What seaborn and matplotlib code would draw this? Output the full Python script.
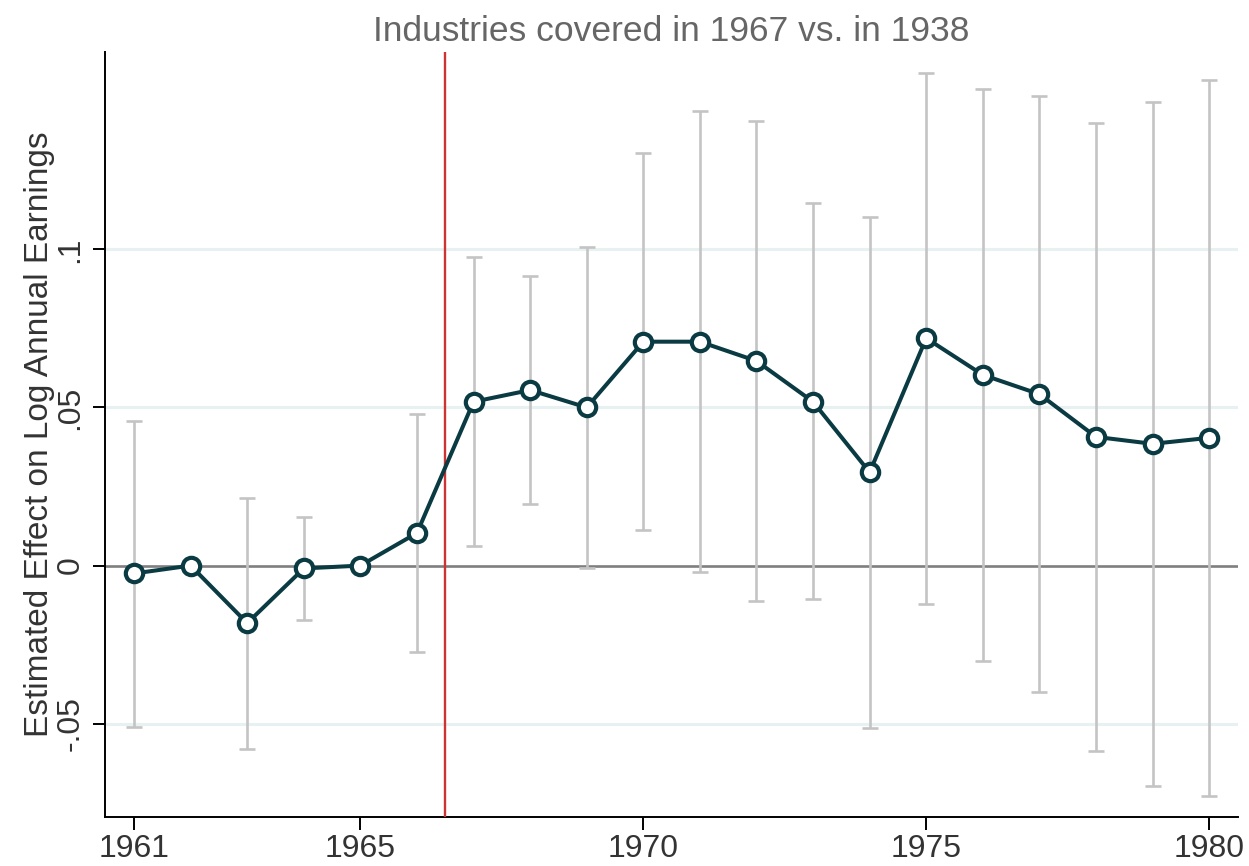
import numpy as np
import pandas as pd
import matplotlib
matplotlib.use("Agg")
import matplotlib.pyplot as plt
import seaborn as sns

years = [1961, 1962, 1963, 1964, 1965, 1966, 1967, 1968, 1969, 1970,
         1971, 1972, 1973, 1974, 1975, 1976, 1977, 1978, 1979, 1980]
estimate = [-0.0025, 0.0, -0.0182, -0.0009, 0.0, 0.0103, 0.0518, 0.0555, 0.0500, 0.0708,
            0.0708, 0.0647, 0.0518, 0.0295, 0.0719, 0.0603, 0.0542, 0.0407, 0.0385, 0.0404]
ci_upper = [0.0457, np.nan, 0.0215, 0.0153, np.nan, 0.0480, 0.0975, 0.0915, 0.1006, 0.1305,
            0.1436, 0.1405, 0.1147, 0.1101, 0.1558, 0.1507, 0.1484, 0.1398, 0.1466, 0.1535]
ci_lower = [-0.0511, np.nan, -0.0580, -0.0171, np.nan, -0.0274, 0.0063, 0.0195, -0.0007, 0.0111,
            -0.0019, -0.0111, -0.0106, -0.0512, -0.0122, -0.0301, -0.0401, -0.0587, -0.0697, -0.0730]
xtick_vals = [1961, 1965, 1970, 1975, 1980]
ytick_vals = [-0.05, 0.0, 0.05, 0.1]
ytick_labels = ["-.05", "0", ".05", ".1"]
event_line = 1966.5
title = "Industries covered in 1967 vs. in 1938"
ylabel = "Estimated Effect on Log Annual Earnings"

df = pd.DataFrame({"year": years, "est": estimate, "hi": ci_upper, "lo": ci_lower})

sns.set_theme(style="white")
plt.rcParams["font.family"] = ["Liberation Sans", "DejaVu Sans"]

fig = plt.figure(figsize=(12.49, 8.66), dpi=100)
ax = fig.add_axes([105 / 1249, 1 - 817 / 866, (1238 - 105) / 1249, (817 - 52) / 866])

teal = "#0a3a42"
grid_c = "#e8f1f2"

# gridlines
for v in ytick_vals:
    if v != 0:
        ax.axhline(v, color=grid_c, lw=2.2, zorder=0)
ax.axhline(0, color="#7f7f7f", lw=1.9, zorder=1)

# confidence intervals
ci = df.dropna()
ax.errorbar(ci["year"], ci["est"], yerr=[ci["est"] - ci["lo"], ci["hi"] - ci["est"]],
            fmt="none", ecolor="#c4c4c4", elinewidth=1.9, capsize=6, capthick=1.9, zorder=2)

ax.axvline(event_line, color="#cc3333", lw=1.7, zorder=3)

sns.lineplot(data=df, x="year", y="est", ax=ax, color=teal, lw=2.9, marker="o",
             markersize=12.5, markerfacecolor="white", markeredgecolor=teal,
             markeredgewidth=3.0, zorder=4)

ax.set_xlim(1960.487, 1980.51)
ax.set_ylim(-0.0795, 0.1624)
ax.set_xticks(xtick_vals)
ax.set_xticklabels([str(v) for v in xtick_vals])
ax.set_yticks(ytick_vals)
ax.set_yticklabels(ytick_labels, rotation=90, va="center")

for s in ["top", "right"]:
    ax.spines[s].set_visible(False)
for s in ["left", "bottom"]:
    ax.spines[s].set_color("black")
    ax.spines[s].set_linewidth(1.4)

ax.tick_params(axis="both", which="both", direction="out", length=9, width=1.4,
               colors="black", labelcolor="#333333", labelsize=23, left=True, bottom=True)
ax.tick_params(axis="y", pad=5)
ax.tick_params(axis="x", pad=3)

ax.set_xlabel("")
ax.set_ylabel(ylabel, fontsize=24, color="#333333")
ax.yaxis.set_label_coords(-0.0445, 0.5)
ax.set_title(title, fontsize=25.5, color="#666666", pad=8)

fig.savefig("out.png", dpi=100)
